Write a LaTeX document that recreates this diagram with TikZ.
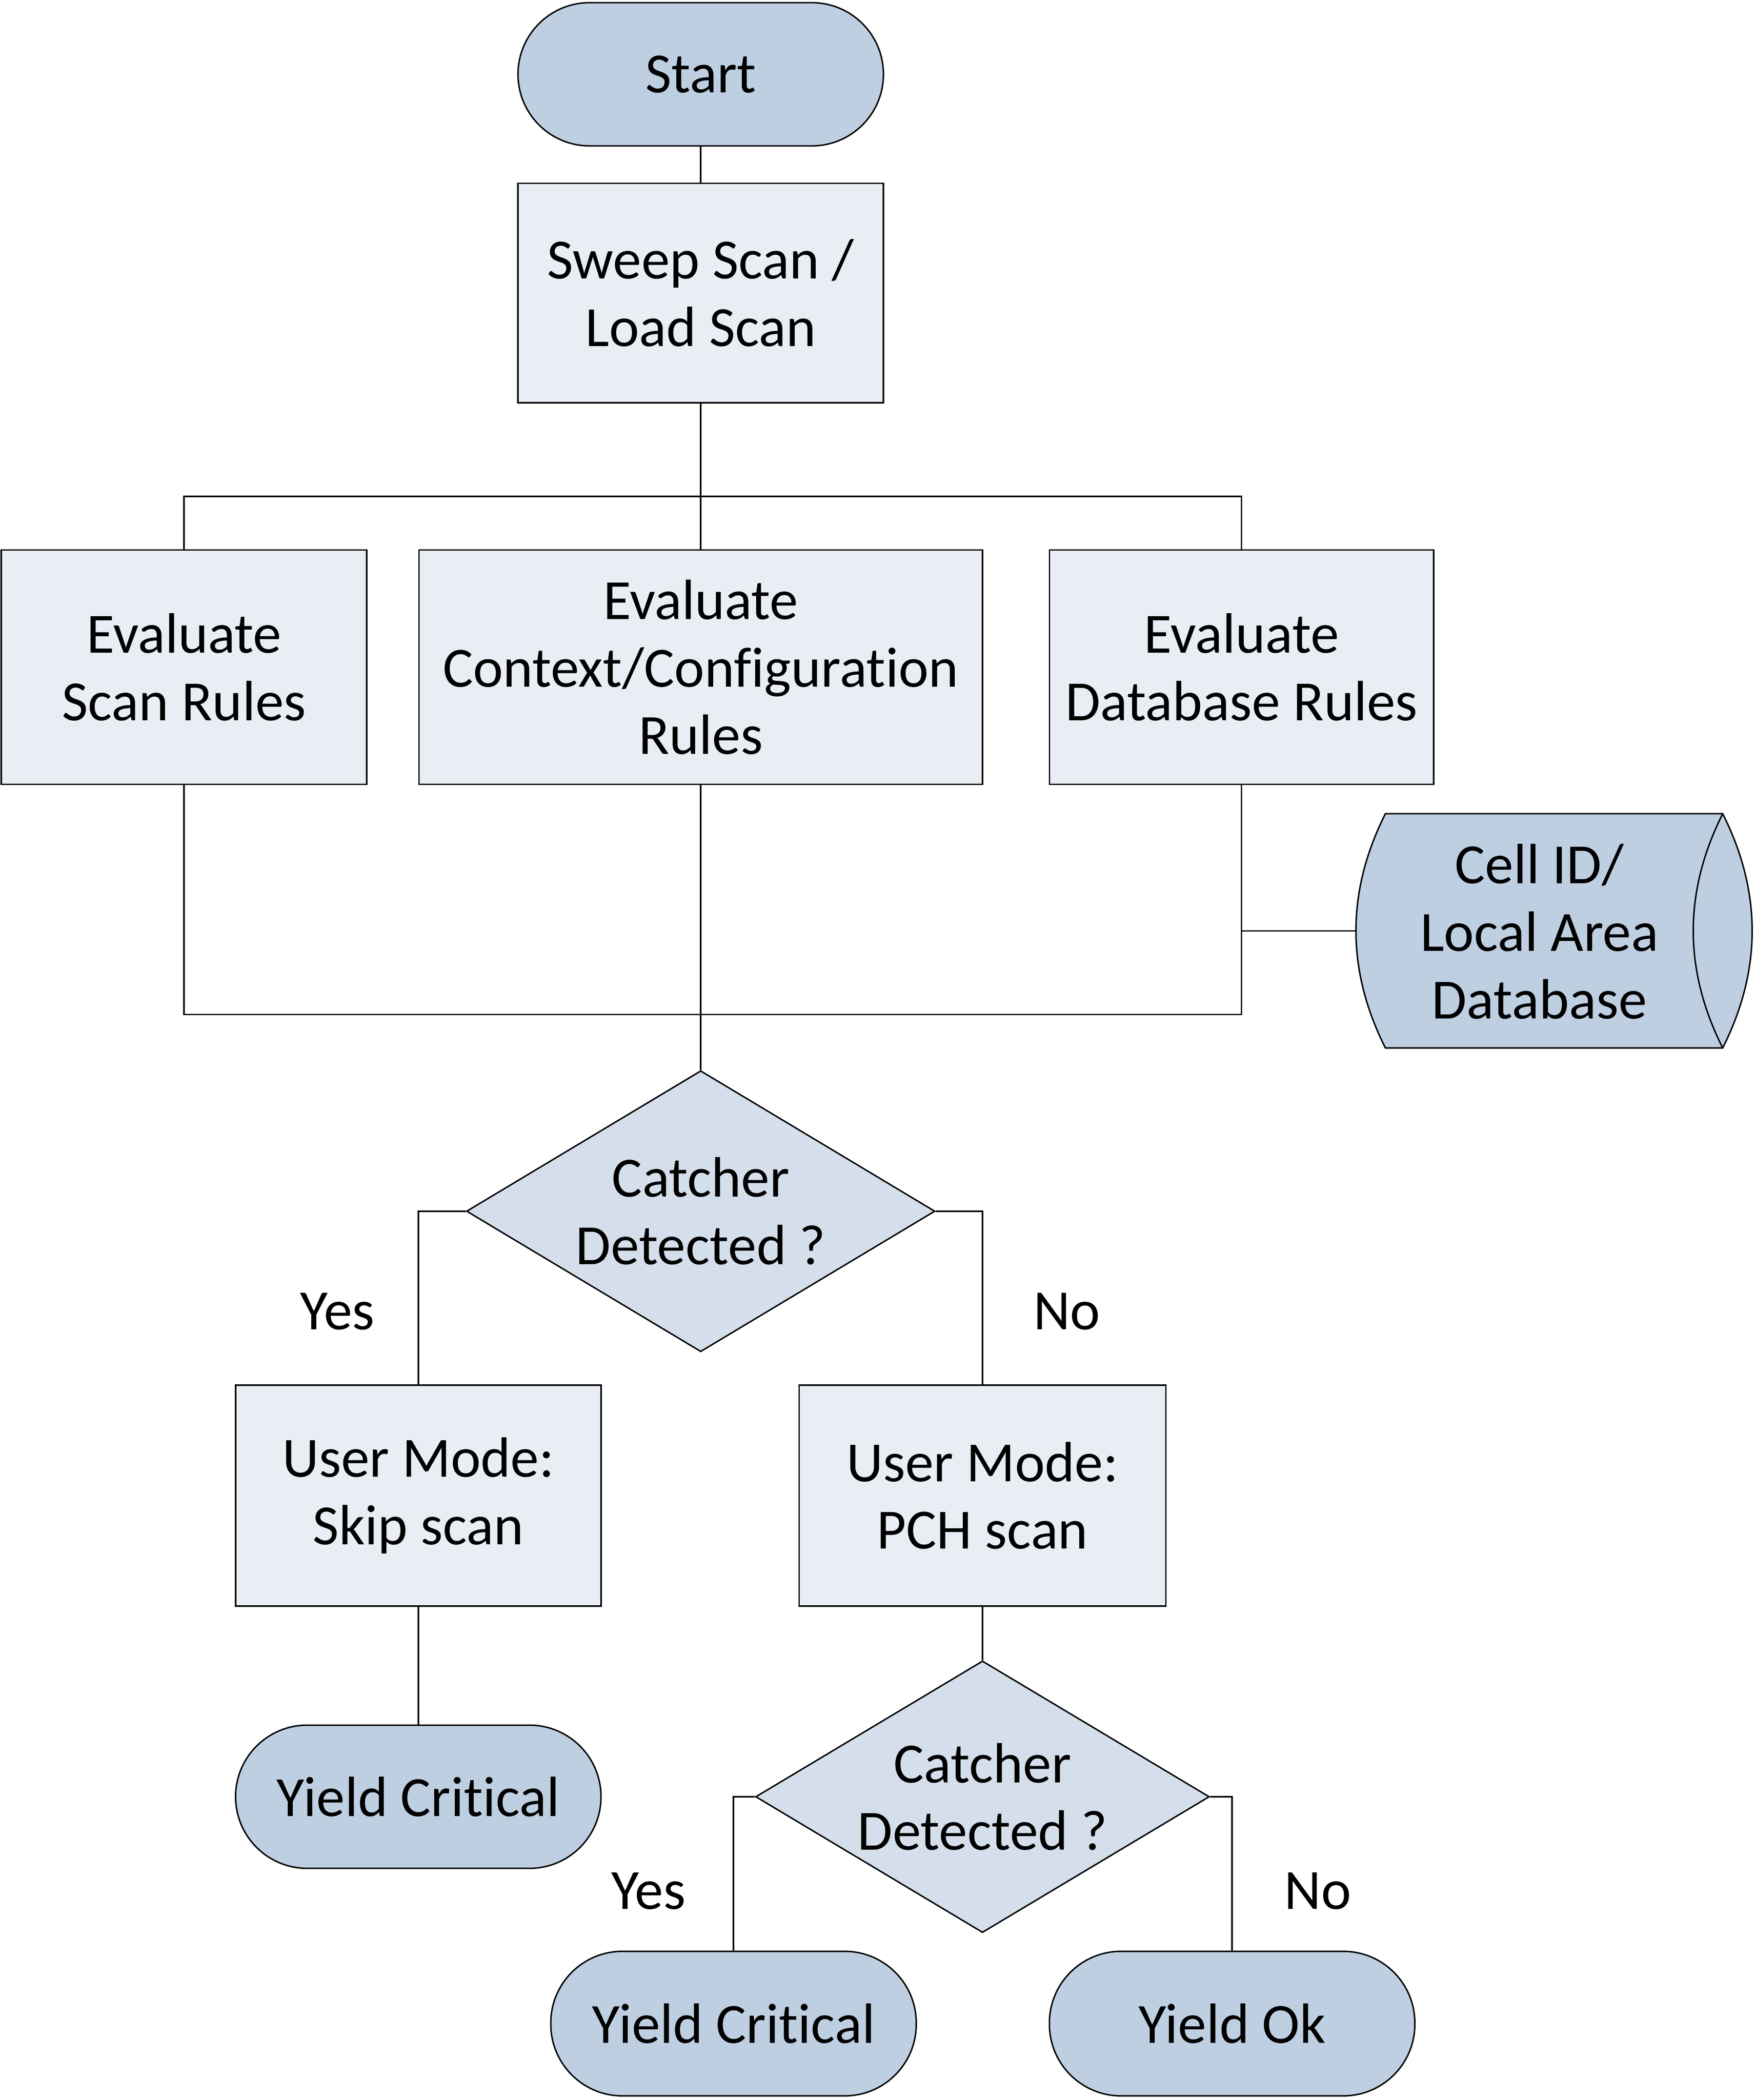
\documentclass[tikz,border=0pt]{standalone}
\usepackage{fontspec}
\setmainfont{Carlito}[Ligatures={NoCommon}]
\usetikzlibrary{shapes.geometric,calc}
\definecolor{termfill}{HTML}{BFCFE2}
\definecolor{procfill}{HTML}{E9EEF5}
\definecolor{decfill}{HTML}{D5DFEB}
\begin{document}
\begin{tikzpicture}[x=1pt,y=-1pt,
  every node/.style={font=\fontsize{42.5}{50.5}\selectfont, align=center, inner sep=0pt},
  termbox/.style={draw, line width=1.1pt, fill=termfill, rounded corners=53.5pt, minimum width=273pt, minimum height=107pt},
  procbox/.style={draw, line width=1.1pt, fill=procfill, minimum height=175pt},
  decbox/.style={draw, line width=1.1pt, fill=decfill, diamond, inner sep=0pt},
  conn/.style={line width=1.1pt},
  lbl/.style={}
]
\useasboundingbox (0,0) rectangle (1311,1569.1);

% terminator and processes
\node[termbox] (start) at (523.5,55.5) {Start};
\node[procbox, minimum width=273pt, minimum height=164pt] (sweep) at (523.5,219) {Sweep Scan /\\Load Scan};
\node[procbox, minimum width=273pt] (escan) at (137.5,498.5) {Evaluate\\Scan Rules};
\node[procbox, minimum width=421pt] (ectx) at (523.5,498.5) {Evaluate\\Context/Configuration\\Rules};
\node[procbox, minimum width=287pt] (edb) at (927.5,498.5) {Evaluate\\Database Rules};

% database shape
\fill[termfill] (1035,608) -- (1287,608)
  .. controls (1316.33,666.33) and (1316.33,724.67) .. (1287,783)
  -- (1035,783)
  .. controls (1005.67,724.67) and (1005.67,666.33) .. (1035,608) -- cycle;
\draw[line width=1.1pt] (1035,608) -- (1287,608)
  .. controls (1316.33,666.33) and (1316.33,724.67) .. (1287,783)
  -- (1035,783)
  .. controls (1005.67,724.67) and (1005.67,666.33) .. (1035,608) -- cycle;
\draw[line width=1.1pt] (1287,608) .. controls (1257.67,666.33) and (1257.67,724.67) .. (1287,783);
\node (db) at (1150,696) {Cell ID/\\Local Area\\Database};
\coordinate (dbleft) at (1013,695.5);

% decisions
\node[decbox, minimum width=350pt, minimum height=210pt] (d1) at (523.5,905) {};
\node (d1t) at (523.5,905) {Catcher\\Detected ?};
\node[procbox, minimum width=273pt, minimum height=165pt] (skip) at (312.5,1117.5) {User Mode:\\Skip scan};
\node[procbox, minimum width=274pt, minimum height=165pt] (pch) at (734,1117.5) {User Mode:\\PCH scan};
\node[termbox] (yc1) at (312.5,1342.5) {Yield Critical};
\node[decbox, minimum width=339pt, minimum height=203pt] (d2) at (734,1342.5) {};
\node (d2t) at (734,1342.5) {Catcher\\Detected ?};
\node[termbox, minimum height=108pt] (yc2) at (548,1512) {Yield Critical};
\node[termbox, minimum height=108pt] (yok) at (920.5,1512) {Yield Ok};

% bus coordinates
\coordinate (busT) at (523.5,371);
\coordinate (busB) at (523.5,758);

% connectors
\draw[conn] (start.south) -- (sweep.north);
\draw[conn] (sweep.south) -- (busT);
\draw[conn] (escan.north) |- (busT) -| (edb.north);
\draw[conn] (busT) -- (ectx.north);
\draw[conn] (escan.south) |- (busB);
\draw[conn] (edb.south) |- (busB);
\draw[conn] (ectx.south) -- (d1.north);
\draw[conn] (dbleft) -- (dbleft -| edb.south);
\draw[conn] (d1.west) -| (skip.north);
\draw[conn] (d1.east) -| (pch.north);
\draw[conn] (skip.south) -- (yc1.north);
\draw[conn] (pch.south) -- (d2.north);
\draw[conn] (d2.west) -| (yc2.north);
\draw[conn] (d2.east) -| (yok.north);

% labels
\node[lbl] (yes1) at (252,980) {Yes};
\node[lbl] (no1) at (797,980) {No};
\node[lbl] (yes2) at (484.5,1413) {Yes};
\node[lbl] (no2) at (984.5,1413) {No};
\end{tikzpicture}
\end{document}
